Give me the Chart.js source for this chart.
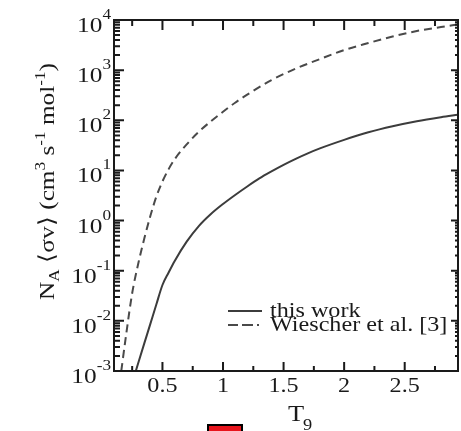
<!DOCTYPE html>
<html>
<head>
<meta charset="utf-8">
<script src="https://cdn.jsdelivr.net/npm/chart.js@4/dist/chart.umd.min.js"></script>
<style>
html, body { margin: 0; padding: 0; background: #fff; overflow: hidden; }
#wrap { position: relative; width: 461px; height: 431px; }
#mark { position: absolute; left: 207px; top: 424px; width: 32px; height: 10px; background: #e8141c; border: 2px solid #000; }
#warm { position: absolute; left: -999px; top: 0; font-family: "Liberation Serif"; }
</style>
</head>
<body>
<div id="wrap">
  <canvas id="chart" width="461" height="431"></canvas>
  <div id="mark"></div>
</div>
<span id="warm">10 this work Wiescher T</span>
<script>
// T9 grid and rates
var t9Work = [0.28, 0.35, 0.4, 0.45, 0.5, 0.55, 0.6, 0.7, 0.8, 0.9, 1.0, 1.1, 1.2, 1.3, 1.4, 1.5, 1.6, 1.7, 1.8, 2.0, 2.2, 2.4, 2.6, 2.8, 2.94];
var rateWork = [0.001, 0.00355, 0.0087, 0.0214, 0.0519, 0.0912, 0.155, 0.380, 0.776, 1.35, 2.14, 3.24, 4.79, 6.92, 9.55, 12.9, 17.0, 21.9, 27.5, 40.7, 57.5, 75.9, 95.5, 115, 129];

var t9Wiescher = [0.16, 0.2, 0.25, 0.3, 0.35, 0.4, 0.45, 0.5, 0.55, 0.6, 0.7, 0.8, 0.9, 1.0, 1.1, 1.2, 1.4, 1.6, 1.8, 2.0, 2.2, 2.4, 2.6, 2.8, 2.94];
var rateWiescher = [0.001, 0.00525, 0.0355, 0.138, 0.437, 1.23, 3.02, 6.03, 10.5, 16.6, 33.1, 58.9, 95.5, 148, 224, 324, 631, 1072, 1660, 2512, 3467, 4677, 6026, 7244, 8128];

var seriesNames = ["this work", "Wiescher et al. [3]"];
var xTickValues = [0.5, 1, 1.5, 2, 2.5];
var xTickLabels = ["0.5", "1", "1.5", "2", "2.5"];
var yTickExps = [-3, -2, -1, 0, 1, 2, 3, 4];

var SERIF = '"Liberation Serif", "Times New Roman", serif';
var INK = '#1a1a1a';
var SX = 1.15; // the scan is stretched sideways a little

function stretchText(ctx, s, x, y, size, align, sx) {
  ctx.save();
  ctx.font = size + 'px ' + SERIF;
  ctx.translate(x, y);
  ctx.scale(sx, 1);
  ctx.textAlign = align;
  ctx.textBaseline = 'alphabetic';
  ctx.fillText(s, 0, 0);
  ctx.restore();
}

var framePlugin = {
  id: 'frame',
  afterDraw: function(chart) {
    var ctx = chart.ctx;
    var a = chart.chartArea;
    var x = chart.scales.x, y = chart.scales.y;
    ctx.save();
    ctx.strokeStyle = INK;
    ctx.fillStyle = INK;

    // box
    ctx.lineWidth = 2;
    ctx.strokeRect(a.left, a.top, a.right - a.left, a.bottom - a.top);

    // y ticks, inward on both sides
    yTickExps.forEach(function(e) {
      var py = y.getPixelForValue(Math.pow(10, e));
      ctx.beginPath();
      ctx.moveTo(a.left, py); ctx.lineTo(a.left + 10, py);
      ctx.moveTo(a.right, py); ctx.lineTo(a.right - 7, py);
      ctx.stroke();
      if (e < 4) {
        for (var m = 2; m <= 9; m++) {
          var pm = y.getPixelForValue(m * Math.pow(10, e));
          ctx.beginPath();
          ctx.moveTo(a.left, pm); ctx.lineTo(a.left + 6, pm);
          ctx.moveTo(a.right, pm); ctx.lineTo(a.right - 3, pm);
          ctx.stroke();
        }
      }
    });

    // x ticks every 0.25, top and bottom
    for (var v = 0.25; v <= x.max + 1e-9; v += 0.25) {
      if (v < x.min) continue;
      var px = x.getPixelForValue(v);
      var major = Math.abs(v * 2 - Math.round(v * 2)) < 1e-6;
      ctx.beginPath();
      ctx.moveTo(px, a.bottom); ctx.lineTo(px, a.bottom - (major ? 9 : 5));
      ctx.moveTo(px, a.top); ctx.lineTo(px, a.top + (major ? 10 : 6));
      ctx.stroke();
    }

    // x tick labels
    xTickValues.forEach(function(v, i) {
      stretchText(ctx, xTickLabels[i], x.getPixelForValue(v), a.bottom + 21, 21, 'center', SX);
    });

    // y tick labels 10^n
    yTickExps.forEach(function(e) {
      var py = y.getPixelForValue(Math.pow(10, e));
      var xr = a.left - 3;
      ctx.font = '15px ' + SERIF;
      var ew = ctx.measureText(String(e)).width * SX;
      stretchText(ctx, String(e), xr, py - 1, 15, 'right', SX);
      stretchText(ctx, '10', xr - ew, py + 12, 22, 'right', SX);
    });

    // x title T9
    stretchText(ctx, 'T', 288, 421, 23, 'left', SX);
    stretchText(ctx, '9', 303, 430, 16, 'left', SX);

    // y title
    var parts = [
      ['N', 22, 0], ['A', 15, 5], [' \u27E8\u03C3v\u27E9 (cm', 22, 0], ['3', 15, -9],
      [' s', 22, 0], ['-1', 15, -9], [' mol', 22, 0], ['-1', 15, -9], [')', 22, 0]
    ];
    var total = 0;
    parts.forEach(function(p) { ctx.font = p[1] + 'px ' + SERIF; total += ctx.measureText(p[0]).width; });
    var k = 237 / total;
    ctx.save();
    ctx.translate(54, 300);
    ctx.rotate(-Math.PI / 2);
    ctx.scale(k, 1);
    var cx = 0;
    parts.forEach(function(p) {
      ctx.font = p[1] + 'px ' + SERIF;
      ctx.textAlign = 'left';
      ctx.fillText(p[0], cx, p[2]);
      cx += ctx.measureText(p[0]).width;
    });
    ctx.restore();

    // legend
    var ds = chart.data.datasets;
    var ly = [311, 325];
    ds.forEach(function(d, i) {
      ctx.save();
      ctx.strokeStyle = d.borderColor;
      ctx.lineWidth = 2;
      ctx.setLineDash(i === 0 ? [] : [10, 4, 11, 4, 2, 40]);
      ctx.beginPath();
      ctx.moveTo(228, ly[i]); ctx.lineTo(262, ly[i]);
      ctx.stroke();
      ctx.restore();
      stretchText(ctx, d.label, 270, ly[i] + 6, 21, 'left', SX);
    });

    ctx.restore();
  }
};

function pts(xs, ys) {
  return xs.map(function(t, i) { return { x: t, y: ys[i] }; });
}

function draw() {
  var ctx = document.getElementById('chart').getContext('2d');
  new Chart(ctx, {
    type: 'scatter',
    data: {
      datasets: [{
        label: seriesNames[0],
        data: pts(t9Work, rateWork),
        showLine: true,
        borderColor: '#3c3c3c',
        borderWidth: 2,
        pointRadius: 0,
        cubicInterpolationMode: 'monotone'
      }, {
        label: seriesNames[1],
        data: pts(t9Wiescher, rateWiescher),
        showLine: true,
        borderColor: '#4a4a4a',
        borderWidth: 2,
        borderDash: [8, 5],
        pointRadius: 0,
        cubicInterpolationMode: 'monotone'
      }]
    },
    options: {
      responsive: false,
      animation: false,
      layout: { padding: { top: 20, right: 3, left: 0, bottom: 0 } },
      plugins: { legend: { display: false }, tooltip: { enabled: false } },
      scales: {
        x: {
          type: 'linear',
          min: 0.1,
          max: 2.94,
          grid: { display: false },
          border: { display: false },
          ticks: { display: false },
          afterFit: function(s) { s.height = 60; }
        },
        y: {
          type: 'logarithmic',
          min: 0.001,
          max: 10000,
          grid: { display: false },
          border: { display: false },
          ticks: { display: false },
          afterBuildTicks: function(s) {
            s.ticks = yTickExps.map(function(e) { return { value: Math.pow(10, e) }; });
          },
          afterFit: function(s) { s.width = 114; }
        }
      }
    },
    plugins: [framePlugin]
  });
}

if (document.fonts && document.fonts.load) {
  Promise.all([
    document.fonts.load('22px "Liberation Serif"'),
    document.fonts.load('15px "Liberation Serif"')
  ]).then(draw, draw);
} else {
  draw();
}
</script>
</body>
</html>
